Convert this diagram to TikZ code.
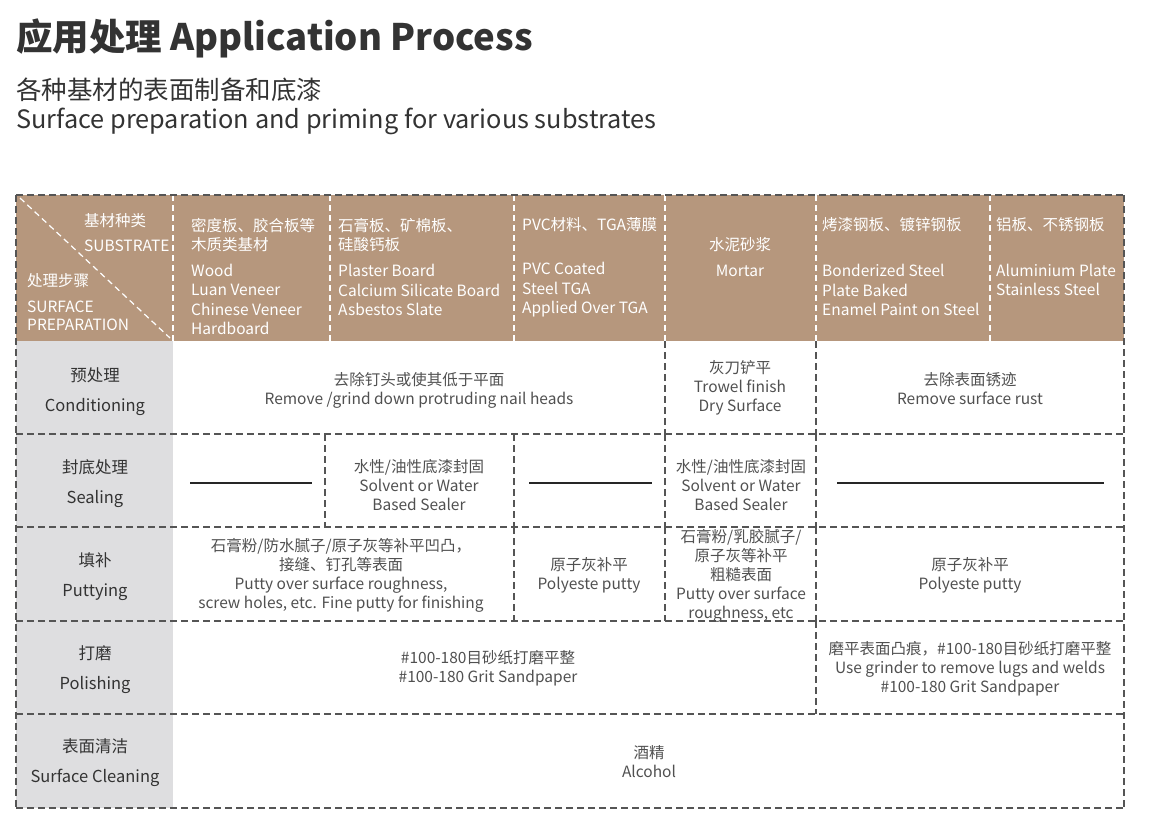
\documentclass[tikz,border=0pt]{standalone}
\usepackage{fontspec}
\setmainfont{Noto Sans CJK SC}
\usetikzlibrary{positioning}
\definecolor{tan}{HTML}{B6977D}
\definecolor{lgray}{HTML}{DEDEE0}
\definecolor{ink}{HTML}{333333}
\definecolor{txt}{HTML}{505050}
\definecolor{rule}{HTML}{555555}
\begin{document}
\begin{tikzpicture}[x=1pt,y=-1pt,inner sep=0pt,
  hd/.style={text=white,align=left,font=\fontsize{15.5}{19.5}\selectfont},
  cell/.style={text=txt,align=center,font=\fontsize{15.5}{19}\selectfont},
  stepname/.style={text=ink,align=center,font=\fontsize{16.5}{30}\selectfont},
  grid/.style={rule,line width=1.3pt,dash pattern=on 7pt off 4pt},
  hgrid/.style={white,line width=1.2pt,dash pattern=on 6pt off 4pt},
  nil/.style={black!85,line width=1.5pt}]
\useasboundingbox (0,0) rectangle (1150,824);
% title
\node[anchor=west,text=ink,font=\fontsize{36.5}{40}\selectfont\bfseries] (title) at (16,38.5) {应用处理 Application Process};
\node[anchor=west,text=ink,font=\fontsize{25.5}{30}\selectfont] (subcn) at (16,90) {各种基材的表面制备和底漆};
\node[anchor=west,text=ink,font=\fontsize{25.3}{30}\selectfont] (suben) at (16,121.5) {Surface preparation and priming for various substrates};
% fills
\fill[tan] (16,195) rectangle (1124,341);
\fill[lgray] (16,341) rectangle (173,808);
% header rules
\foreach \x in {173,330,514,665,816,990} \draw[hgrid] (\x,195) -- (\x,341);
\draw[hgrid] (20,198) -- (170,338);
% table rules
\draw[grid] (16,195) -- (1124,195);
\foreach \y in {434,527,621,714,808} \draw[grid] (16,\y) -- (1124,\y);
\draw[grid] (16,195) -- (16,808) (1124,195) -- (1124,808);
\foreach \x in {665,816} \draw[grid] (\x,341) -- (\x,434);
\foreach \x in {325,514,665,816} \draw[grid] (\x,434) -- (\x,527);
\foreach \x in {514,665,816} \draw[grid] (\x,527) -- (\x,621);
\draw[grid] (816,621) -- (816,714);
% header
\node[hd,anchor=west,font=\fontsize{15.5}{25}\selectfont] (subst) at (84,232.5) {基材种类\\SUBSTRATE};
\node[hd,anchor=west] (prepcn) at (27,281) {处理步骤};
\node[hd,anchor=west,font=\fontsize{15.5}{18.5}\selectfont] (prepen) at (27,316) {SURFACE\\PREPARATION};
\node[hd,anchor=west] (woodcn) at (191,235) {密度板、胶合板等\\木质类基材};
\node[hd,anchor=west] (wooden) at (191,299.5) {Wood\\Luan Veneer\\Chinese Veneer\\Hardboard};
\node[hd,anchor=west] (plascn) at (338,235) {石膏板、矿棉板、\\硅酸钙板};
\node[hd,anchor=west] (plasen) at (338,290) {Plaster Board\\Calcium Silicate Board\\Asbestos Slate};
\node[hd,anchor=west] (pvccn) at (522,225) {PVC材料、TGA薄膜};
\node[hd,anchor=west] (pvcen) at (522,290) {PVC Coated\\Steel TGA\\Applied Over TGA};
\node[hd] (mortcn) at (740,245) {水泥砂浆};
\node[hd] (morten) at (740,271) {Mortar};
\node[hd,anchor=west] (steelcn) at (822,225) {烤漆钢板、镀锌钢板};
\node[hd,anchor=west] (steelen) at (822,290) {Bonderized Steel\\Plate Baked\\Enamel Paint on Steel};
\node[hd,anchor=west] (alucn) at (996,225) {铝板、不锈钢板};
\node[hd,anchor=west] (aluen) at (996,280) {Aluminium Plate\\Stainless Steel};
% steps
\node[stepname] (cond) at (95,391.5) {预处理\\Conditioning};
\node[stepname] (seal) at (95,483.5) {封底处理\\Sealing};
\node[stepname] (putt) at (95,576.5) {填补\\Puttying};
\node[stepname] (poli) at (95,669.5) {打磨\\Polishing};
\node[stepname] (clea) at (95,762.5) {表面清洁\\Surface Cleaning};
% conditioning
\node[cell] (c11) at (419,390.5) {去除钉头或使其低于平面\\Remove /grind down protruding nail heads};
\node[cell] (c12) at (740,388) {灰刀铲平\\Trowel finish\\Dry Surface};
\node[cell] (c13) at (970,389) {去除表面锈迹\\Remove surface rust};
% sealing
\draw[nil] (190,483) -- (312,483);
\node[cell] (c21) at (419,485.5) {水性/油性底漆封固\\Solvent or Water\\Based Sealer};
\draw[nil] (529,483) -- (652,483);
\node[cell] (c22) at (741,485.5) {水性/油性底漆封固\\Solvent or Water\\Based Sealer};
\draw[nil] (837,483) -- (1104,483);
% puttying
\node[cell] (c31) at (341,575.5) {石膏粉/防水腻子/原子灰等补平凹凸，\\接缝、钉孔等表面\\Putty over surface roughness,\\screw holes, etc. Fine putty for finishing};
\node[cell] (c32) at (589,575) {原子灰补平\\Polyeste putty};
\node[cell] (c33) at (741,576) {石膏粉/乳胶腻子/\\原子灰等补平\\粗糙表面\\Putty over surface\\roughness, etc};
\node[cell] (c34) at (970,575) {原子灰补平\\Polyeste putty};
% polishing
\node[cell] (c41) at (488,668.5) {\#100-180目砂纸打磨平整\\\#100-180 Grit Sandpaper};
\node[cell] (c42) at (970,668.5) {磨平表面凸痕，\#100-180目砂纸打磨平整\\Use grinder to remove lugs and welds\\\#100-180 Grit Sandpaper};
% cleaning
\node[cell] (c51) at (649,761.5) {酒精\\Alcohol};
\end{tikzpicture}
\end{document}
